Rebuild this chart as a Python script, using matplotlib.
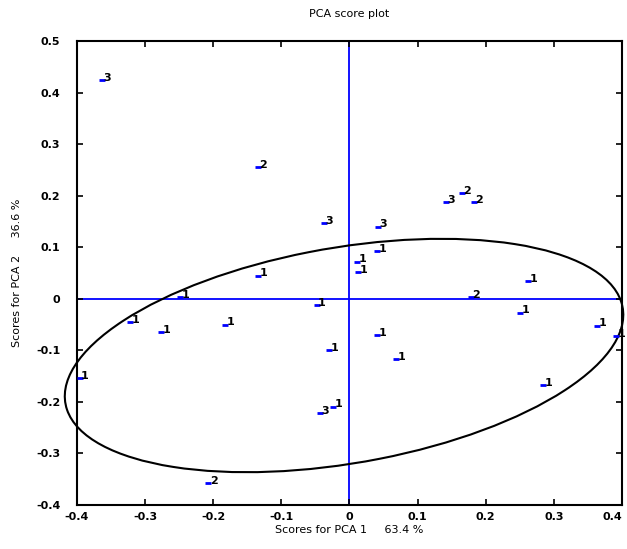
# =============================================================================
# Import Libraries
# =============================================================================
import numpy as np
from matplotlib import pyplot as plt
from matplotlib.patches import Ellipse
from matplotlib.ticker import MultipleLocator

# =============================================================================
# Data
# =============================================================================
pc1_scores = [-0.364, -0.135, -0.037, 0.042, 0.041, 0.011, 0.013, 0.141, 0.165,
              0.183, 0.178, 0.262, 0.250, 0.364, 0.391, 0.284, -0.048, -0.030,
              0.041, 0.069, -0.043, -0.024, -0.276, -0.183, -0.322, -0.249,
              -0.134, -0.396, -0.207]
pc2_scores = [0.424, 0.255, 0.147, 0.140, 0.093, 0.072, 0.052, 0.188, 0.205,
              0.188, 0.004, 0.035, -0.027, -0.052, -0.072, -0.167, -0.013, -0.099,
              -0.071, -0.117, -0.222, -0.209, -0.065, -0.050, -0.045, 0.004,
              0.045, -0.154, -0.357]
sample_labels = ["3", "2", "3", "3", "1", "1", "1", "3", "2",
                 "2", "2", "1", "1", "1", "1", "1", "1", "1",
                 "1", "1", "3", "1", "1", "1", "1", "1",
                 "1", "1", "2"]

# confidence ellipse: centre, full width/height, angle (deg)
ellipse_center = (-0.008, -0.11)
ellipse_width = 0.84
ellipse_height = 0.414
ellipse_angle = 14.5

x_ticks = [-0.4, -0.3, -0.2, -0.1, 0, 0.1, 0.2, 0.3, 0.4]
y_ticks = [-0.4, -0.3, -0.2, -0.1, 0, 0.1, 0.2, 0.3, 0.4, 0.5]

def tick_text(v):
    return "0" if v == 0 else f"{v:.1f}"

# =============================================================================
# Plot
# =============================================================================
fig = plt.figure(figsize=(6.27, 5.49), dpi=100)
ax = fig.add_axes([0.1228, 0.0801, 0.8692, 0.8452])

ax.axhline(0, color="#0000ff", lw=1.3, zorder=1)
ax.axvline(0, color="#0000ff", lw=1.3, zorder=1)

ell = Ellipse(ellipse_center, ellipse_width, ellipse_height, angle=ellipse_angle,
              fill=False, edgecolor="black", lw=1.5, zorder=2, clip_on=False)
ax.add_patch(ell)

ax.plot(pc1_scores, pc2_scores, linestyle="none", marker="_", markersize=4,
        markeredgewidth=2, color="#0000ff", zorder=3)
for x, y, lab in zip(pc1_scores, pc2_scores, sample_labels):
    ax.annotate(lab, (x, y), xytext=(1, -2), textcoords="offset points",
                ha="left", va="bottom", fontsize=8, fontweight="bold",
                color="black", zorder=4)

ax.set_xlim(-0.4, 0.4)
ax.set_ylim(-0.4, 0.5)
ax.set_xticks(x_ticks)
ax.set_yticks(y_ticks)
ax.set_xticklabels([tick_text(v) for v in x_ticks], fontsize=8, fontweight="bold")
ax.set_yticklabels([tick_text(v) for v in y_ticks], fontsize=8, fontweight="bold")
ax.get_xticklabels()[-1].set_horizontalalignment("right")
ax.tick_params(direction="in", top=True, right=True, length=4, width=1.2)
ax.tick_params(axis="x", pad=5)
ax.tick_params(axis="y", pad=12)
for s in ax.spines.values():
    s.set_linewidth(1.5)

ax.set_title("PCA score plot", fontsize=8, pad=17)
ax.set_xlabel("Scores for PCA 1     63.4 %", fontsize=8, labelpad=2)
ax.set_ylabel("Scores for PCA 2     36.6 %", fontsize=8, labelpad=10)

fig.savefig("out.png", dpi=100)
